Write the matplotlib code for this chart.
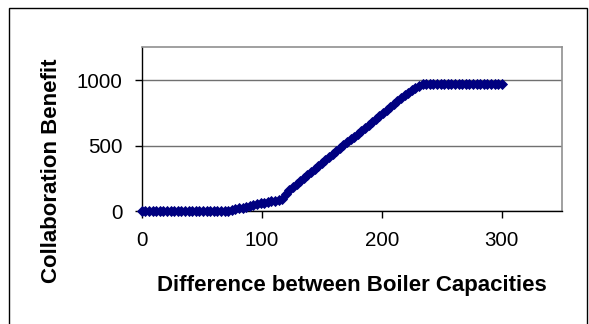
import numpy as np
import matplotlib
matplotlib.use("Agg")
import matplotlib.pyplot as plt
from matplotlib.patches import Rectangle

plt.rcParams['font.family'] = ['Liberation Sans', 'DejaVu Sans']

# capacity difference (x) and collaboration benefit (y)
capacity_diff = list(range(0, 301, 3))
benefit = [
    0, 0, 0, 0, 0, 0, 0, 0, 0, 0,                # 0 - 27
    0, 0, 0, 0, 0, 0, 0, 0, 0, 0,                # 30 - 57
    0, 0, 0, 0,                                  # 60 - 69
    5, 10, 16, 22, 28, 34, 40, 46, 53, 60,       # 72 - 99
    65, 70, 76, 80, 85, 92,                      # 102 - 117
    130, 160, 185, 208, 232, 255, 278, 300, 322, 345,   # 120 - 147
    368, 390, 412, 435, 458, 480, 502, 525, 548, 570,   # 150 - 177
    592, 615, 638, 660, 683, 705, 728, 750, 773, 795,   # 180 - 207
    818, 840, 862, 885, 905, 925, 942, 958, 970,        # 210 - 234
    970, 970, 970, 970, 970, 970, 970, 970, 970, 970,   # 237 - 264
    970, 970, 970, 970, 970, 970, 970, 970, 970, 970,   # 267 - 294
    970, 970,                                           # 297 - 300
]

x_ticks = [0, 100, 200, 300]
y_ticks = [0, 500, 1000]

fig = plt.figure(figsize=(5.89, 3.24), dpi=100)
ax = fig.add_axes([0.2406, 0.3478, 0.7131, 0.5062])

ax.plot(capacity_diff, benefit, linestyle='none', marker='D', markersize=5.4,
        color='#000080', markeredgewidth=0.6, clip_on=False, zorder=3)

ax.set_xlim(0, 350)
ax.set_ylim(0, 1250)
ax.set_xticks(x_ticks)
ax.set_yticks(y_ticks)
ax.grid(axis='y', color='#707070', linewidth=1.0, zorder=1)
ax.set_axisbelow(True)

for side in ('top', 'right'):
    ax.spines[side].set_color('#909090')
    ax.spines[side].set_linewidth(1.2)
for side in ('left', 'bottom'):
    ax.spines[side].set_color('black')
    ax.spines[side].set_linewidth(1.0)

ax.tick_params(axis='both', direction='out', length=5, width=1.0,
               labelsize=14.8, colors='black')
ax.tick_params(axis='y', pad=9)
ax.tick_params(axis='x', pad=9)

ax.set_xlabel('Difference between Boiler Capacities', fontsize=16,
              fontweight='bold', va='center')
ax.set_ylabel('Collaboration Benefit', fontsize=16, fontweight='bold',
              va='center')
ax.xaxis.set_label_coords(0.5, -0.45)
ax.yaxis.set_label_coords(-0.215, 0.25)

# chart area frame
fig.patches.append(Rectangle((9 / 589, -0.05), 578 / 589, 1.05 - 8 / 324,
                             transform=fig.transFigure, fill=False,
                             edgecolor='black', linewidth=1.0))

fig.savefig('out.png', dpi=100)
